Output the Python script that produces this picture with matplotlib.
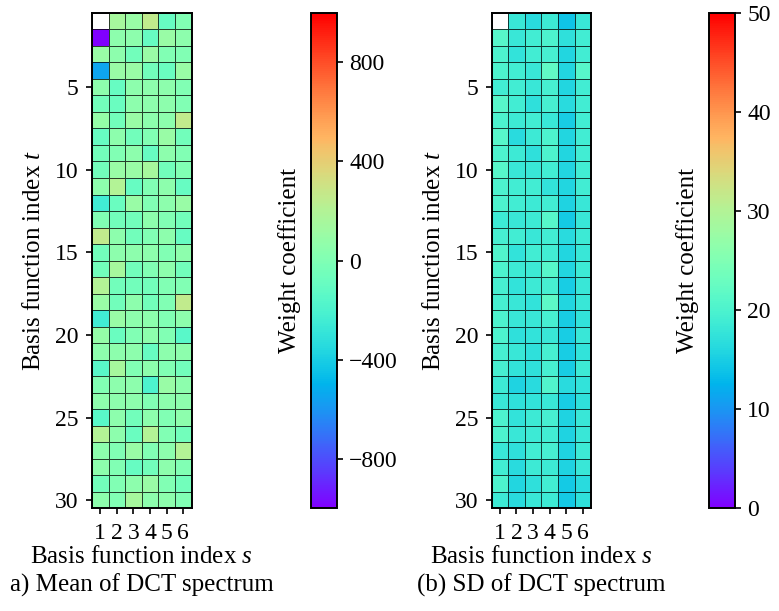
import numpy as np
import matplotlib
matplotlib.use("Agg")
import matplotlib.pyplot as plt

plt.rcParams['font.family'] = ['Liberation Serif', 'DejaVu Serif']
plt.rcParams['mathtext.fontset'] = 'custom'
plt.rcParams['mathtext.rm'] = 'Liberation Serif'
plt.rcParams['mathtext.it'] = 'Liberation Serif:italic'
plt.rcParams['font.size'] = 17

# mean of DCT spectrum, rows t = 1..30, columns s = 1..6 (t=1,s=1 not shown)
mean_vals = np.array([
    [np.nan, 150, 100, 250, -100, 0],
    [-1000, 50, 50, -100, 100, 50],
    [100, 50, -50, 100, 0, 0],
    [-550, 100, 100, -50, -80, 100],
    [50, -100, 50, 50, 50, 0],
    [-50, -80, 50, 50, 50, 0],
    [80, -50, 100, 50, 50, 250],
    [-100, 50, -50, 0, 100, -50],
    [-50, 0, 50, -100, 50, 0],
    [-50, 100, 100, 150, -50, 0],
    [50, 200, -100, 0, 50, -100],
    [-250, -80, 100, 0, 50, 100],
    [0, -50, -50, 50, 0, -50],
    [250, 50, -50, 0, 50, -100],
    [-50, 50, 50, 50, 0, 50],
    [-50, 150, -50, 0, 50, -50],
    [200, -50, -50, -50, 0, 0],
    [100, -50, 50, -50, 0, 250],
    [-250, 100, 50, 50, 0, 50],
    [80, -80, 0, 50, 0, -150],
    [50, 50, 50, -100, 50, 50],
    [-150, 150, 0, 50, 0, -50],
    [0, 50, 50, -200, 100, 50],
    [50, 50, 50, 0, 50, 50],
    [-150, 50, -50, 50, 0, 50],
    [200, 50, -80, 200, 0, -50],
    [50, 0, 100, 0, 50, 200],
    [50, 0, -100, -50, 50, 0],
    [-50, 0, 50, 100, 0, -50],
    [50, 0, 150, 50, 50, 0],
])

# standard deviation of DCT spectrum
sd_vals = np.array([
    [np.nan, 18, 16.5, 18.5, 14, 18],
    [21, 18, 19, 20, 17, 19],
    [20, 17.5, 19, 19.5, 16, 19],
    [20, 19, 18, 22, 16, 21],
    [19, 19, 18, 19.5, 16, 19],
    [21, 19, 17, 19.5, 16.5, 19],
    [20, 18.5, 19, 18, 15, 19],
    [21, 16.5, 18.5, 20, 16, 19],
    [20, 18.5, 17, 20, 16, 19],
    [21, 18, 18, 19, 16, 19],
    [20, 19, 19, 17.5, 16, 19],
    [20, 19, 18.5, 19, 15.5, 18],
    [18.5, 18, 18.5, 21, 14.5, 18],
    [19.5, 19, 18, 19, 16.5, 18.5],
    [20.5, 17.5, 19, 19, 16, 18],
    [20, 18.5, 18.5, 21, 16, 18.5],
    [19.5, 17.5, 18.5, 19.5, 15, 18],
    [19.5, 18, 17.5, 21.5, 16, 18],
    [20, 18, 18, 19.5, 15, 17.5],
    [20, 17, 17.5, 18, 15, 18],
    [19.5, 18, 17, 19.5, 15, 17.5],
    [19.5, 17.5, 17, 19.5, 15, 18.5],
    [18.5, 15.5, 16.5, 20.5, 16.5, 17.5],
    [18, 17, 17.5, 18, 15, 17],
    [20, 17.5, 18.5, 19.5, 15.5, 18],
    [20, 18, 18.5, 19, 15.5, 18],
    [18, 17, 19, 19.5, 15.5, 18.5],
    [19, 16.5, 18.5, 18.5, 15.5, 18],
    [20, 16, 17, 19, 14.5, 16.5],
    [18.5, 16.5, 18, 18.5, 14.5, 17],
])

s_idx = np.arange(1, 7)
y_ticks = [5, 10, 15, 20, 25, 30]

panels = [
    (mean_vals, -1000, 1000, [-800, -400, 0, 400, 800], "a) Mean of DCT spectrum",
     [0.118, 0.168, 0.128, 0.811], [0.399, 0.168, 0.034, 0.811]),
    (sd_vals, 0, 50, [0, 10, 20, 30, 40, 50], "(b) SD of DCT spectrum",
     [0.631, 0.168, 0.128, 0.811], [0.910, 0.168, 0.034, 0.811]),
]

fig = plt.figure(figsize=(7.79, 6.11), dpi=100)
for vals, vmin, vmax, cticks, title, pos, cpos in panels:
    ax = fig.add_axes(pos)
    xe = np.arange(0.5, 7.0, 1.0)
    ye = np.arange(0.5, 31.0, 1.0)
    mesh = ax.pcolormesh(xe, ye, np.ma.masked_invalid(vals), cmap='rainbow',
                         vmin=vmin, vmax=vmax, edgecolors=(0, 0, 0, 0.75),
                         linewidth=0.6)
    ax.set_xlim(0.5, 6.5)
    ax.set_ylim(30.5, 0.5)
    ax.set_xticks(s_idx)
    ax.set_yticks(y_ticks)
    ax.tick_params(length=4.5, width=1.2, pad=5)
    ax.tick_params(axis='x', pad=6)
    for sp in ax.spines.values():
        sp.set_linewidth(1.4)
    ax.set_ylabel(r"Basis function index $t$", fontsize=18, labelpad=7)
    cx = pos[0] + pos[2] / 2
    fig.text(cx, 0.088, r"Basis function index $s$", ha='center', va='center',
             fontsize=18)
    fig.text(cx, 0.042, title, ha='center', va='center', fontsize=18)

    cax = fig.add_axes(cpos)
    cb = fig.colorbar(mesh, cax=cax)
    cb.set_ticks(cticks)
    cb.ax.tick_params(length=4.5, width=1.2, pad=4)
    cb.outline.set_linewidth(1.4)
    cb.ax.yaxis.set_label_position('left')
    cb.set_label("Weight coefficient", fontsize=18, labelpad=7)

fig.savefig("out.png", dpi=100)
